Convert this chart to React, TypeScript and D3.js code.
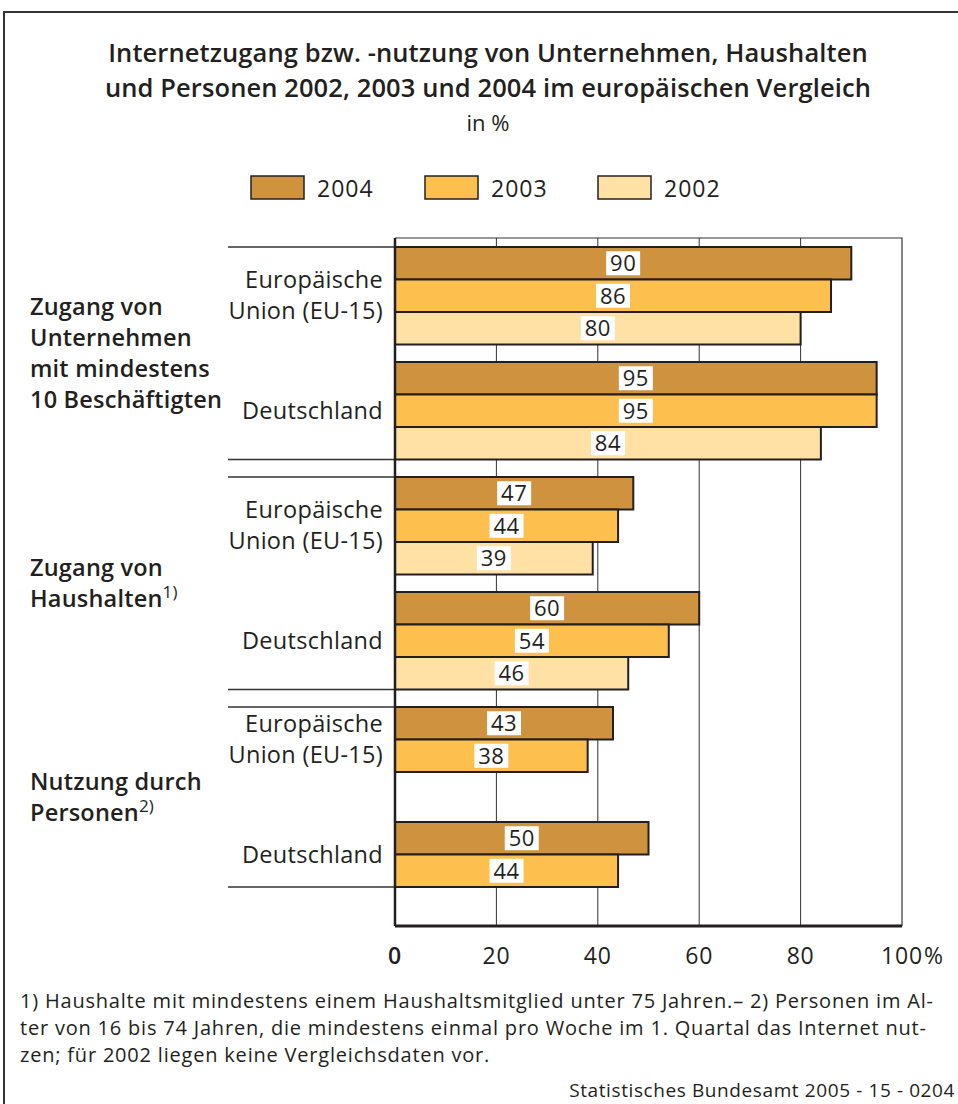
import React from "react";
import * as d3 from "d3";

const groups = ["unternehmen", "haushalte", "personen"];
const groupLabels: string[][] = [
  ["Zugang von", "Unternehmen", "mit mindestens", "10 Beschäftigten"],
  ["Zugang von", "Haushalten"],
  ["Nutzung durch", "Personen"],
];
const groupNotes = ["", "1)", "2)"];
const regions = ["EU", "DE"];
const regionLabels: string[][] = [["Europäische", "Union (EU-15)"], ["Deutschland"]];
const years = ["2004", "2003", "2002"];
const yearColors = ["#CF9340", "#FDBF4D", "#FFE1A6"];

// values[group][region]
const values2004 = [[90, 95], [47, 60], [43, 50]];
const values2003 = [[86, 95], [44, 54], [38, 44]];
const values2002: (number | null)[][] = [[80, 84], [39, 46], [null, null]];

const xTicks = [0, 20, 40, 60, 80, 100];

const footnotes = [
  "1) Haushalte mit mindestens einem Haushaltsmitglied unter 75 Jahren.– 2) Personen im Al-",
  "ter von 16 bis 74 Jahren, die mindestens einmal pro Woche im 1. Quartal das Internet nut-",
  "zen; für 2002 liegen keine Vergleichsdaten vor.",
];
const source = "Statistisches Bundesamt 2005 - 15 - 0204";

const FONT = "'Open Sans', 'Noto Sans', sans-serif";

export default function App() {
  const W = 958, H = 1104;
  const plotLeft = 395, plotRight = 902, plotTop = 238, plotBottom = 926;
  const x = d3.scaleLinear().domain([0, 100]).range([plotLeft, plotRight]);
  const gy = d3.scaleBand<string>().domain(groups).range([247, 247 + 230 * 3]);
  const ry = d3.scaleBand<string>().domain(regions).range([0, 230]);
  const sy = d3.scaleBand<string>().domain(years).range([0, 97.5]);
  const barH = sy.bandwidth();

  const seriesVals = [values2004, values2003, values2002];

  const bars: any[] = [];
  groups.forEach((g, gi) => {
    regions.forEach((r, ri) => {
      years.forEach((yr, yi) => {
        const v = seriesVals[yi][gi][ri];
        if (v == null) return;
        bars.push({ g, r, yr, yi, v, y: (gy(g) as number) + (ry(r) as number) + (sy(yr) as number) });
      });
    });
  });

  const nYears = groups.map((_, gi) => years.filter((_, yi) => seriesVals[yi][gi][0] != null).length);

  return (
    <svg width={W} height={H} style={{ display: "block", position: "absolute", left: 0, top: 0 }} fontFamily={FONT}>
      <rect x={0} y={0} width={W} height={H} fill="#fff" />
      <path d={`M4,${H} L4,12 L${W},12`} fill="none" stroke="#333" strokeWidth={2} />

      {/* title */}
      <g textAnchor="middle" fill="#231f20">
        <text x={488} y={62} fontSize={25.5} fontWeight={600} letterSpacing={0.1}>Internetzugang bzw. -nutzung  von Unternehmen, Haushalten</text>
        <text x={488} y={97} fontSize={25.5} fontWeight={600} letterSpacing={0.1}>und Personen 2002, 2003 und 2004 im europäischen Vergleich</text>
        <text x={488} y={131} fontSize={22}>in %</text>
      </g>

      {/* legend */}
      {years.map((yr, i) => {
        const lx = [251, 425, 598][i];
        return (
          <g key={yr}>
            <rect x={lx} y={176} width={53} height={23} fill={yearColors[i]} stroke="#222" strokeWidth={1.5} />
            <text x={lx + 66} y={197} fontSize={23} letterSpacing={1} fill="#231f20">{yr}</text>
          </g>
        );
      })}

      {/* grid */}
      {xTicks.filter(t => t > 0 && t < 100).map(t => (
        <line key={t} x1={x(t)} x2={x(t)} y1={plotTop} y2={plotBottom} stroke="#333" strokeWidth={1} />
      ))}
      <path d={`M${plotLeft},${plotTop} L${plotRight},${plotTop} L${plotRight},${plotBottom}`} fill="none" stroke="#333" strokeWidth={1.2} />

      {/* group separators */}
      {groups.map((g, gi) => {
        const top = gy(g) as number;
        const bottom = top + (ry("DE") as number) + barH * nYears[gi];
        return (
          <g key={g} stroke="#333" strokeWidth={1.5}>
            <line x1={228} x2={plotLeft} y1={top} y2={top} />
            <line x1={228} x2={plotLeft} y1={bottom} y2={bottom} />
          </g>
        );
      })}

      {/* bars */}
      {bars.map((b, i) => (
        <rect key={i} x={x(0)} y={b.y} width={x(b.v) - x(0)} height={barH}
          fill={yearColors[b.yi]} stroke="#231f20" strokeWidth={2} />
      ))}
      {bars.map((b, i) => {
        const cx = (x(0) + x(b.v)) / 2;
        const cy = b.y + barH / 2;
        return (
          <g key={"l" + i}>
            <rect x={cx - 17} y={cy - 12} width={34} height={24} fill="#fff" />
            <text x={cx} y={cy + 8} fontSize={22} letterSpacing={0.5} textAnchor="middle" fill="#231f20">{b.v}</text>
          </g>
        );
      })}

      {/* axes */}
      <line x1={plotLeft} x2={plotLeft} y1={plotTop} y2={plotBottom} stroke="#231f20" strokeWidth={2.5} />
      <line x1={plotLeft} x2={plotRight} y1={plotBottom} y2={plotBottom} stroke="#231f20" strokeWidth={3} />
      {xTicks.map(t => (
        <text key={t} x={x(t)} y={964} fontSize={23} letterSpacing={0.8} textAnchor="middle" fill="#231f20" fontWeight={t === 0 ? 600 : 400}>{t}</text>
      ))}
      <text x={x(100) + 22} y={964} fontSize={23} fill="#231f20">%</text>

      {/* region labels */}
      {groups.map((g, gi) =>
        regions.map((r, ri) => {
          const top = (gy(g) as number) + (ry(r) as number);
          const cy = top + (barH * nYears[gi]) / 2;
          const lines = regionLabels[ri];
          const lh = 31;
          return (
            <text key={g + r} x={383} textAnchor="end" fontSize={23.5} letterSpacing={0.3} fill="#231f20">
              {lines.map((ln, li) => (
                <tspan key={li} x={383} y={cy - ((lines.length - 1) * lh) / 2 + li * lh + 8}>{ln}</tspan>
              ))}
            </text>
          );
        })
      )}

      {/* group labels */}
      {groups.map((g, gi) => {
        const top = gy(g) as number;
        const bottom = top + (ry("DE") as number) + barH * nYears[gi];
        const cy = (top + bottom) / 2;
        const lines = groupLabels[gi];
        const lh = 31;
        return (
          <text key={g} fontSize={23.5} fontWeight={600} letterSpacing={0.2} fill="#231f20">
            {lines.map((ln, li) => (
              <tspan key={li} x={30} y={cy - ((lines.length - 1) * lh) / 2 + li * lh + 8}>
                {ln}
                {li === lines.length - 1 && groupNotes[gi] ? (
                  <tspan fontSize={17} fontWeight={400} dy={-9}>{groupNotes[gi]}</tspan>
                ) : null}
              </tspan>
            ))}
          </text>
        );
      })}

      {/* footnotes */}
      {footnotes.map((f, i) => (
        <text key={i} x={20} y={1008 + i * 27} fontSize={20} letterSpacing={0.8} fill="#231f20">{f}</text>
      ))}
      <text x={955} y={1097} fontSize={19} letterSpacing={0.6} textAnchor="end" fill="#231f20">{source}</text>
    </svg>
  );
}
